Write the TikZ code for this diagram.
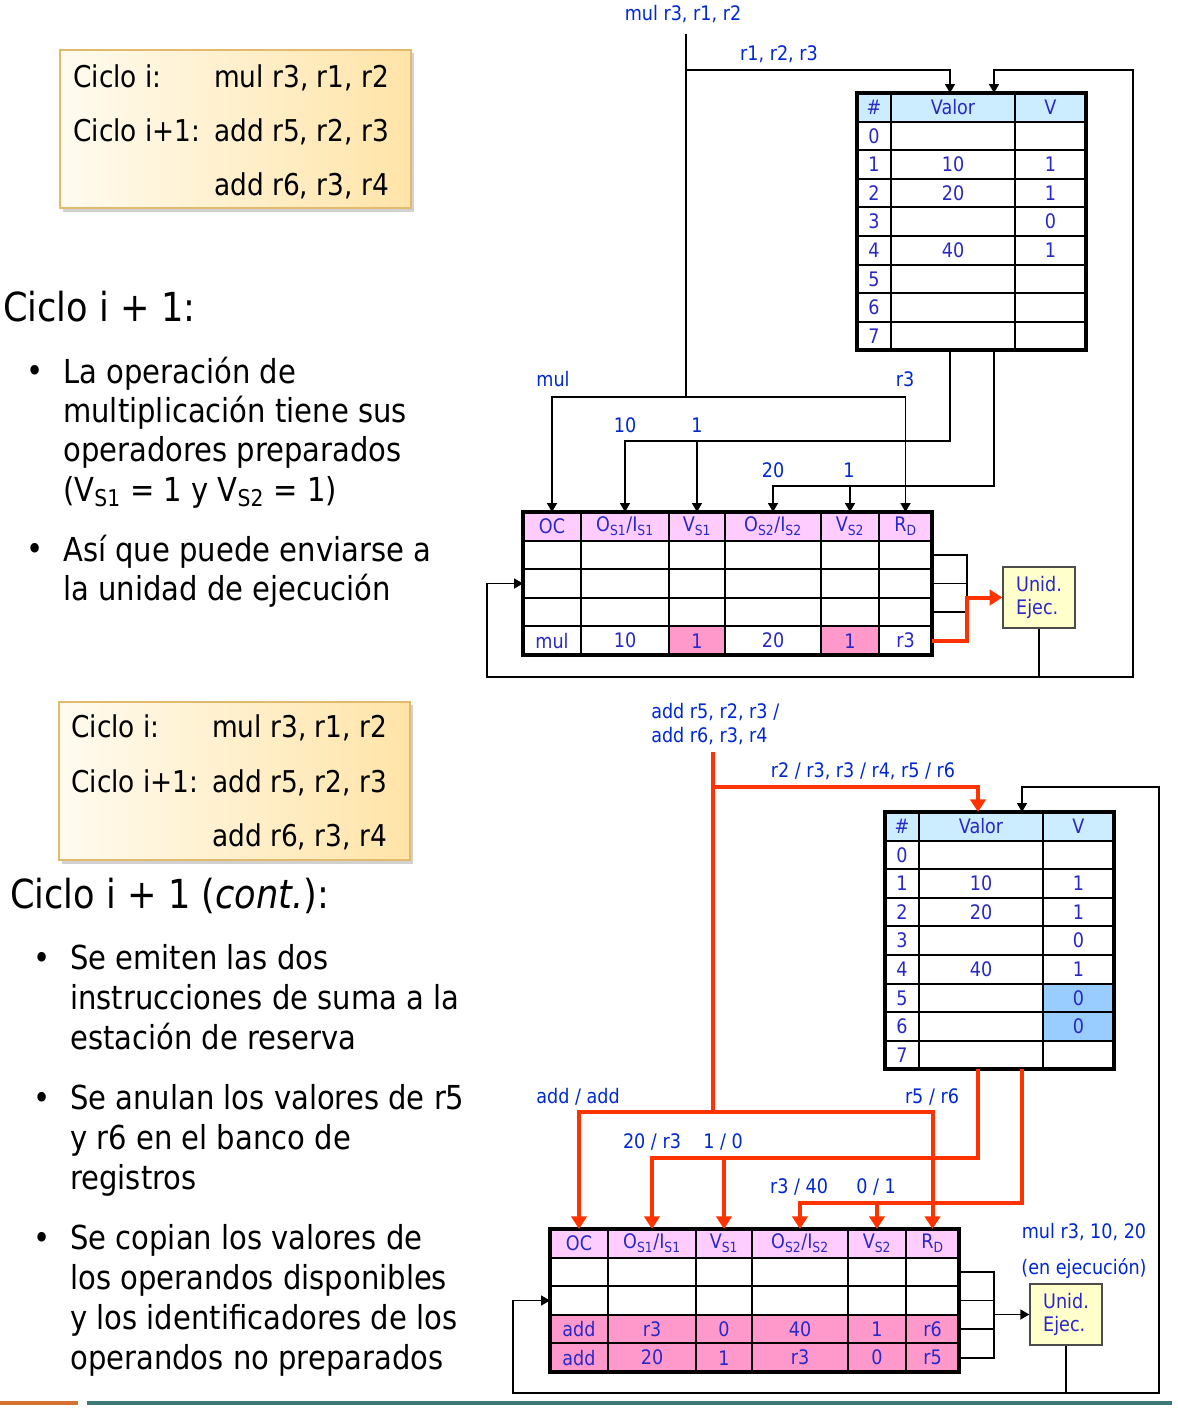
\documentclass[tikz,border=0pt]{standalone}
\usepackage{fontspec}
\setmainfont{DejaVu Sans}[FakeStretch=0.88]
\usetikzlibrary{arrows.meta}

\definecolor{lblblue}{RGB}{0,40,210}
\definecolor{tabblue}{RGB}{40,40,200}
\definecolor{hdrblue}{RGB}{204,236,255}
\definecolor{hdrpink}{RGB}{255,204,255}
\definecolor{cellpink}{RGB}{255,153,204}
\definecolor{cellblue}{RGB}{153,204,255}
\definecolor{ueyellow}{RGB}{255,255,204}
\definecolor{busred}{RGB}{255,51,0}
\definecolor{boxlo}{RGB}{255,251,240}
\definecolor{boxhi}{RGB}{255,228,168}
\definecolor{boxedge}{RGB}{226,186,110}
\definecolor{barorange}{RGB}{214,112,48}
\definecolor{barteal}{RGB}{60,120,120}

\newcommand\lblfont{\fontsize{15}{17.5}\selectfont}
\newcommand\boxfont{\fontsize{22.5}{27}\selectfont}
\newcommand\bodyfont{\fontsize{24.75}{30}\selectfont}
\newcommand\ttlfont{\fontsize{30}{36}\selectfont}

\tikzset{
  wire/.style={line width=1.3pt},
  arr/.style={wire,-{Triangle[length=6.75pt,width=7.5pt]}},
  bus/.style={line width=3pt,draw=busred},
  busarr/.style={bus,-{Triangle[length=9.5pt,width=11.5pt]}},
  rule/.style={line width=1.5pt},
  frame/.style={line width=3pt},
  tbltxt/.style={font=\lblfont,text=tabblue,inner sep=0pt},
  lbl/.style={font=\lblfont,text=lblblue,inner sep=0pt,anchor=base},
  ueb/.style={draw=black!70,line width=1pt,fill=ueyellow,font=\lblfont,text=tabblue,align=left,minimum width=54pt,minimum height=45.75pt,inner sep=0pt},
  boxtxt/.style={font=\boxfont,anchor=base west,inner sep=0pt},
  body/.style={font=\bodyfont,anchor=base west,inner sep=0pt},
  ttl/.style={font=\ttlfont,anchor=base west,inner sep=0pt},
}

% register file: #1 name, #2 top left corner
\newcommand\regfile[2]{%
\begin{scope}[shift={#2}]
\fill[hdrblue] (0,0) rectangle (229,28.6);
\foreach \k in {1,...,8} \draw[rule] (0,\k*28.6) -- (229,\k*28.6);
\draw[rule] (34,0) -- (34,257.4);
\draw[rule] (158,0) -- (158,257.4);
\draw[frame] (0,0) rectangle (229,257.4);
\node[tbltxt] (#1-hn) at (17,14.3) {\#};
\node[tbltxt] (#1-hv) at (96,14.3) {Valor};
\node[tbltxt] (#1-hb) at (193.5,14.3) {V};
\foreach \k in {0,...,7} \node[tbltxt] (#1-n\k) at (17,{(\k+1.5)*28.6}) {\k};
\coordinate (#1-p1) at (93,0);
\coordinate (#1-p2) at (137,0);
\coordinate (#1-o1) at (93,257.4);
\coordinate (#1-o2) at (137,257.4);
\end{scope}}

% reservation station: #1 name, #2 top left corner
\newcommand\resstat[2]{%
\begin{scope}[shift={#2}]
\fill[hdrpink] (0,0) rectangle (409,28.6);
\foreach \k in {1,...,4} \draw[rule] (0,\k*28.6) -- (409,\k*28.6);
\foreach \c in {58,146,202,298,356} \draw[rule] (\c,0) -- (\c,143);
\draw[frame] (0,0) rectangle (409,143);
\foreach \c/\t [count=\i] in {29/OC, 102/{O\textsubscript{S1}/I\textsubscript{S1}}, 174/{V\textsubscript{S1}}, 250/{O\textsubscript{S2}/I\textsubscript{S2}}, 327/{V\textsubscript{S2}}, 382.5/{R\textsubscript{D}}}
  {\coordinate (#1-p\i) at (\c,0);
   \node[tbltxt] (#1-h\i) at (\c,14.3) {\t};}
\foreach \k in {1,...,4} \coordinate (#1-r\k) at (409,{(\k+0.5)*28.6});
\coordinate (#1-in) at (0,71.5);
\end{scope}}

% one filled row of a reservation station
\newcommand\rsrow[3]{\foreach \t [count=\i] in {#3} \node[tbltxt] (#1-c#2-\i) at (#1-p\i |- #1-r#2) {\t};}

\begin{document}
\begin{tikzpicture}[x=0.75pt,y=0.75pt,yscale=-1,xscale=1]
\useasboundingbox (0,0) rectangle (1178,1425);
\fill[white] (0,0) rectangle (1178,1425);

%Shape: Rectangle, code box (top)
\fill[black!18] (63,53) rectangle (414,212);
\shade[left color=boxlo,right color=boxhi] (60,50) rectangle (411,208);
\draw[boxedge,line width=1pt] (60,50) rectangle (411,208);
% Text Node
\node[boxtxt] (cA1) at (73,87) {Ciclo i:};
\node[boxtxt] (cA2) at (214,87) {mul r3, r1, r2};
\node[boxtxt] (cA3) at (73,141) {Ciclo i+1:};
\node[boxtxt] (cA4) at (214,141) {add r5, r2, r3};
\node[boxtxt] (cA5) at (214,195) {add r6, r3, r4};

% Text Node
\node[ttl] (tA) at (3,321) {Ciclo i + 1:};
\node[body,anchor=base] (bA1) at (35,382) {•};
\foreach \t [count=\i] in {La operación de, multiplicación tiene sus, operadores preparados, {(V\textsubscript{S1} = 1 y V\textsubscript{S2} = 1)}}
  \node[body] (tA1-\i) at (63,{383+(\i-1)*39.4}) {\t};
\node[body,anchor=base] (bA2) at (35,560) {•};
\foreach \t [count=\i] in {Así que puede enviarse a, la unidad de ejecución}
  \node[body] (tA2-\i) at (63,{561+(\i-1)*39.4}) {\t};

%Shape: Rectangle, code box (bottom)
\fill[black!18] (62,705) rectangle (413,864);
\shade[left color=boxlo,right color=boxhi] (59,702) rectangle (410,860);
\draw[boxedge,line width=1pt] (59,702) rectangle (410,860);
% Text Node
\node[boxtxt] (cB1) at (71,737) {Ciclo i:};
\node[boxtxt] (cB2) at (212,737) {mul r3, r1, r2};
\node[boxtxt] (cB3) at (71,792) {Ciclo i+1:};
\node[boxtxt] (cB4) at (212,792) {add r5, r2, r3};
\node[boxtxt] (cB5) at (212,846) {add r6, r3, r4};

% Text Node
\node[ttl] (tB) at (10,908) {Ciclo i + 1 (\textit{cont.}):};
\node[body,anchor=base] (bB1) at (42,969) {•};
\foreach \t [count=\i] in {Se emiten las dos, instrucciones de suma a la, estación de reserva}
  \node[body] (tB1-\i) at (70,{969+(\i-1)*40}) {\t};
\node[body,anchor=base] (bB2) at (42,1109) {•};
\foreach \t [count=\i] in {Se anulan los valores de r5, y r6 en el banco de, registros}
  \node[body] (tB2-\i) at (70,{1109+(\i-1)*40}) {\t};
\node[body,anchor=base] (bB3) at (42,1249) {•};
\foreach \t [count=\i] in {Se copian los valores de, los operandos disponibles, y los identificadores de los, operandos no preparados}
  \node[body] (tB3-\i) at (70,{1249+(\i-1)*40}) {\t};

%%%%%%%% diagram A
\regfile{rfA}{(857,93)}
\node[tbltxt] (rfA-x1) at (rfA-hv |- rfA-n1) {10};
\node[tbltxt] (rfA-w1) at (rfA-hb |- rfA-n1) {1};
\node[tbltxt] (rfA-x2) at (rfA-hv |- rfA-n2) {20};
\node[tbltxt] (rfA-w2) at (rfA-hb |- rfA-n2) {1};
\node[tbltxt] (rfA-w3) at (rfA-hb |- rfA-n3) {0};
\node[tbltxt] (rfA-x4) at (rfA-hv |- rfA-n4) {40};
\node[tbltxt] (rfA-w4) at (rfA-hb |- rfA-n4) {1};

\fill[cellpink] (669,626.4) rectangle (725,655);
\fill[cellpink] (821,626.4) rectangle (879,655);
\resstat{rsA}{(523,512)}
\rsrow{rsA}{4}{mul,10,1,20,1,r3}

\node[ueb] (ueA) at (1039,597.5) {Unid.\\Ejec.};

% Text Node
\node[lbl] (lA-ins) at (683,20) {mul r3, r1, r2};
\node[lbl] (lA-rf) at (779,60) {r1, r2, r3};
\node[lbl] (lA-oc) at (553,386) {mul};
\node[lbl] (lA-rd) at (905,386) {r3};
\node[lbl] (lA-s1) at (625,432) {10};
\node[lbl] (lA-v1) at (697,432) {1};
\node[lbl] (lA-s2) at (773,477) {20};
\node[lbl] (lA-v2) at (849,477) {1};

%Straight Lines
\coordinate (A-src) at (686,34);
\coordinate (A-j1) at (686,70);
\coordinate (A-j2) at (686,397);
\coordinate (A-b1) at (625,441);
\coordinate (A-b2) at (773,486);
\coordinate (A-k) at (967,597.5);
\coordinate (A-fbL) at (487,677);
\coordinate (A-fbR) at (1133,677);
\coordinate (A-fbT) at (1133,70);
\draw[wire] (A-src) -- (A-j2);
\draw[arr] (A-j1) -| (rfA-p1);
\draw[arr] (A-j2) -| (rsA-p1);
\draw[arr] (A-j2) -| (rsA-p6);
\draw[arr] (rfA-o1) |- (A-b1) -- (rsA-p2);
\draw[arr] (rsA-p3 |- A-b1) -- (rsA-p3);
\draw[arr] (rfA-o2) |- (A-b2) -- (rsA-p4);
\draw[arr] (rsA-p5 |- A-b2) -- (rsA-p5);
\draw[wire] (rsA-r1) -| (A-k);
\draw[wire] (rsA-r2) -- (rsA-r2 -| A-k);
\draw[wire] (rsA-r3) -| (A-k);
\draw[busarr] (rsA-r4) -| (A-k) -- (ueA.west);
\draw[arr] (ueA.south) |- (A-fbR) -- (A-fbT) -| (rfA-p2);
\draw[arr] (ueA.south |- A-fbL) -- (A-fbL) |- (rsA-in);

%%%%%%%% diagram B
\fill[cellblue] (1043,983.6) rectangle (1114,1040.8);
\regfile{rfB}{(885,812)}
\node[tbltxt] (rfB-x1) at (rfB-hv |- rfB-n1) {10};
\node[tbltxt] (rfB-w1) at (rfB-hb |- rfB-n1) {1};
\node[tbltxt] (rfB-x2) at (rfB-hv |- rfB-n2) {20};
\node[tbltxt] (rfB-w2) at (rfB-hb |- rfB-n2) {1};
\node[tbltxt] (rfB-w3) at (rfB-hb |- rfB-n3) {0};
\node[tbltxt] (rfB-x4) at (rfB-hv |- rfB-n4) {40};
\node[tbltxt] (rfB-w4) at (rfB-hb |- rfB-n4) {1};
\node[tbltxt] (rfB-w5) at (rfB-hb |- rfB-n5) {0};
\node[tbltxt] (rfB-w6) at (rfB-hb |- rfB-n6) {0};

\fill[cellpink] (550,1314.8) rectangle (959,1372);
\resstat{rsB}{(550,1229)}
\rsrow{rsB}{3}{add,r3,0,40,1,r6}
\rsrow{rsB}{4}{add,20,1,r3,0,r5}

\node[ueb] (ueB) at (1066,1314.5) {Unid.\\Ejec.};

% Text Node
\node[lbl,anchor=base west] (lB-ins1) at (651,718) {add r5, r2, r3 /};
\node[lbl,anchor=base west] (lB-ins2) at (651,742) {add r6, r3, r4};
\node[lbl] (lB-rf) at (863,777) {r2 / r3, r3 / r4, r5 / r6};
\node[lbl] (lB-oc) at (578,1103) {add / add};
\node[lbl] (lB-rd) at (932,1103) {r5 / r6};
\node[lbl] (lB-s1) at (652,1148) {20 / r3};
\node[lbl] (lB-v1) at (723,1148) {1 / 0};
\node[lbl] (lB-s2) at (799,1193) {r3 / 40};
\node[lbl] (lB-v2) at (876,1193) {0 / 1};
\node[lbl] (lB-ex1) at (1084,1238) {mul r3, 10, 20};
\node[lbl] (lB-ex2) at (1084,1274) {(en ejecución)};

%Straight Lines
\coordinate (B-src) at (713,752);
\coordinate (B-j1) at (713,787);
\coordinate (B-j2) at (713,1112);
\coordinate (B-b1) at (652,1158);
\coordinate (B-b2) at (800,1203);
\coordinate (B-k) at (994,1314.5);
\coordinate (B-fbL) at (513,1393);
\coordinate (B-fbR) at (1159,1393);
\coordinate (B-fbT) at (1159,787);
\draw[bus] (B-src) -- (B-j2);
\draw[busarr] (B-j1) -| (rfB-p1);
\draw[busarr] (B-j2) -| (rsB-p1);
\draw[busarr] (B-j2) -| (rsB-p6);
\draw[busarr] (rfB-o1) |- (B-b1) -- (rsB-p2);
\draw[busarr] (rsB-p3 |- B-b1) -- (rsB-p3);
\draw[busarr] (rfB-o2) |- (B-b2) -- (rsB-p4);
\draw[busarr] (rsB-p5 |- B-b2) -- (rsB-p5);
\draw[wire] (rsB-r1) -| (B-k);
\draw[wire] (rsB-r2) -- (rsB-r2 -| B-k);
\draw[wire] (rsB-r3) -- (rsB-r3 -| B-k);
\draw[wire] (rsB-r4) -| (B-k);
\draw[arr] (B-k) -- (ueB.west);
\draw[arr] (ueB.south) |- (B-fbR) -- (B-fbT) -| (rfB-p2);
\draw[arr] (ueB.south |- B-fbL) -- (B-fbL) |- (rsB-in);

%Straight Lines, footer
\draw[barorange,line width=3pt] (0,1403) -- (78,1403);
\draw[barteal,line width=3pt] (87,1403) -- (1172,1403);

\end{tikzpicture}
\end{document}
